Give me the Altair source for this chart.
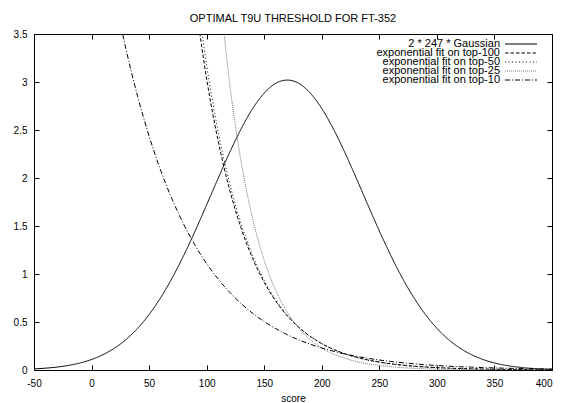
import altair as alt
import pandas as pd

series_names = [
    "2 * 247 * Gaussian",
    "exponential fit on top-100",
    "exponential fit on top-50",
    "exponential fit on top-25",
    "exponential fit on top-10",
]

gauss_x = list(range(-50, 401, 10))
gauss_y = [0.0117, 0.0191, 0.0306, 0.0479, 0.0733,
           0.1095, 0.160, 0.228, 0.318, 0.434, 0.578, 0.753, 0.958, 1.192, 1.449,
           1.721, 1.998, 2.267, 2.513, 2.724, 2.884, 2.986, 3.02, 2.986, 2.884,
           2.724, 2.513, 2.267, 1.998, 1.721, 1.449, 1.192, 0.958, 0.753, 0.578,
           0.434, 0.318, 0.228, 0.160, 0.1095, 0.0733, 0.0479, 0.0306, 0.0191, 0.0117,
           0.0070]

top100_x = list(range(90, 401, 10))
top100_y = [3.853, 3.031, 2.384, 1.875, 1.475, 1.160, 0.913, 0.718, 0.565, 0.444,
            0.350, 0.275, 0.216, 0.170, 0.134, 0.105, 0.083, 0.065, 0.051, 0.040,
            0.032, 0.025, 0.020, 0.0155, 0.0122, 0.0096, 0.0075, 0.0059, 0.0047, 0.0037,
            0.0029, 0.0023]

top50_x = list(range(90, 401, 10))
top50_y = [4.05, 3.173, 2.484, 1.944, 1.521, 1.191, 0.932, 0.730, 0.571, 0.447,
           0.350, 0.274, 0.214, 0.168, 0.131, 0.103, 0.080, 0.063, 0.049, 0.039,
           0.030, 0.024, 0.018, 0.0144, 0.0113, 0.0088, 0.0069, 0.0054, 0.0042, 0.0033,
           0.0026, 0.0020]

top25_x = list(range(110, 401, 10))
top25_y = [4.107, 2.982, 2.166, 1.573, 1.142, 0.829, 0.602, 0.437, 0.317, 0.230,
           0.167, 0.122, 0.088, 0.064, 0.047, 0.034, 0.0245, 0.0178, 0.0129, 0.0094,
           0.0068, 0.0050, 0.0036, 0.0026, 0.0019, 0.0014, 0.0010, 0.0007, 0.0005, 0.0004]

top10_x = list(range(20, 401, 10))
top10_y = [3.906, 3.338, 2.851, 2.436, 2.081, 1.778, 1.519, 1.297, 1.108, 0.947,
           0.809, 0.691, 0.590, 0.504, 0.431, 0.368, 0.314, 0.269, 0.229, 0.196,
           0.167, 0.143, 0.122, 0.104, 0.089, 0.076, 0.065, 0.055, 0.047, 0.040,
           0.034, 0.030, 0.025, 0.0215, 0.0184, 0.0157, 0.0134, 0.0115, 0.0098]

x_ticks = [-50, 0, 50, 100, 150, 200, 250, 300, 350, 400]
y_ticks = [0, 0.5, 1, 1.5, 2, 2.5, 3, 3.5]

series_colors = ["#000000", "#000000", "#000000", "#777777", "#000000"]
series_dashes = [[1, 0], [3.5, 2], [1, 2.5], [1, 1], [5, 2, 1, 2]]

rows = []
for name, xs, ys in zip(series_names,
                        [gauss_x, top100_x, top50_x, top25_x, top10_x],
                        [gauss_y, top100_y, top50_y, top25_y, top10_y]):
    for xv, yv in zip(xs, ys):
        rows.append({"series": name, "score": xv, "value": yv})
df = pd.DataFrame(rows)
legend_df = pd.DataFrame({"series": series_names})

W, H = 518, 336
FONT = "Liberation Sans"

color_scale = alt.Scale(domain=series_names, range=series_colors)
dash_scale = alt.Scale(domain=series_names, range=series_dashes)

lines = alt.Chart(df).mark_line(clip=True, strokeWidth=1, interpolate="monotone").encode(
    x=alt.X("score:Q",
            scale=alt.Scale(domain=[-50, 400], nice=False, zero=False),
            axis=alt.Axis(values=x_ticks, labelExpr="'' + datum.value", title="score",
                          grid=True, gridDash=[5, H - 10], labelPadding=8, labelFlush=False,
                          labelAlign=alt.expr("datum.value == 400 ? 'right' : 'center'"),
                          titleY=31, titleBaseline="alphabetic")),
    y=alt.Y("value:Q",
            scale=alt.Scale(domain=[0, 3.5], nice=False),
            axis=alt.Axis(values=y_ticks, labelExpr="'' + datum.value", title=None,
                          grid=True, gridDash=[5, W - 10], labelPadding=7, labelFlush=False)),
    color=alt.Color("series:N", scale=color_scale, legend=None),
    strokeDash=alt.StrokeDash("series:N", scale=dash_scale, legend=None),
)

legend_y = alt.Y("series:N", axis=None,
                 scale=alt.Scale(type="point", domain=series_names, range=[10, 46], padding=0))

legend_text = alt.Chart(legend_df).mark_text(
    align="right", baseline="middle", font=FONT, fontSize=11, color="black"
).encode(
    x=alt.value(466),
    y=legend_y,
    text="series:N",
)

legend_rule = alt.Chart(legend_df).mark_rule(strokeWidth=1).encode(
    x=alt.value(471),
    x2=alt.value(503),
    y=legend_y,
    color=alt.Color("series:N", scale=color_scale, legend=None),
    strokeDash=alt.StrokeDash("series:N", scale=dash_scale, legend=None),
)

chart = alt.layer(lines, legend_text, legend_rule).resolve_scale(
    y="independent"
).properties(
    width=W, height=H,
    autosize=alt.AutoSizeParams(type="none"),
    padding={"left": 26, "top": 26, "right": 1, "bottom": 33},
    title=alt.TitleParams("OPTIMAL T9U THRESHOLD FOR FT-352", fontSize=11, font=FONT,
                          fontWeight="normal", color="black", offset=5, anchor="middle"),
).configure_axis(
    labelFont=FONT, labelFontSize=10, labelColor="black",
    titleFont=FONT, titleFontSize=10, titleFontWeight="normal", titleColor="black",
    domain=False, ticks=False, gridColor="black", gridOpacity=1, gridWidth=1,
).configure_view(
    stroke="black", strokeWidth=1,
)

chart.save("out.html", embed_options={"renderer": "svg", "actions": False})
